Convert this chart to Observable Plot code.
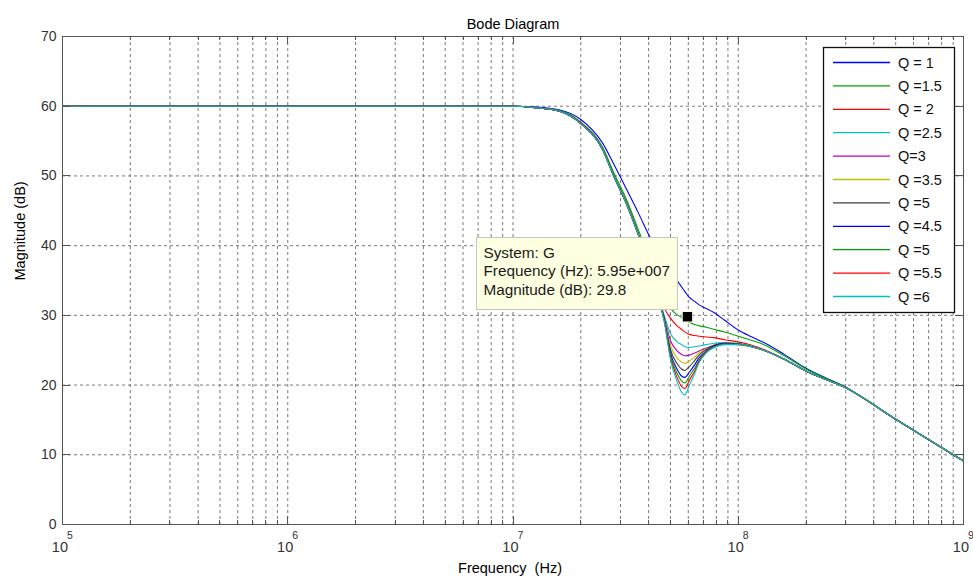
<!DOCTYPE html>
<html><head><meta charset="utf-8">
<script src="https://cdn.jsdelivr.net/npm/d3@7"></script>
<script src="https://cdn.jsdelivr.net/npm/@observablehq/plot@0.6"></script>
<style>
body{margin:0;background:#fff;overflow:hidden;}
svg text{font-family:Arial,"Liberation Sans",sans-serif;}
</style></head><body><div id="chart"></div>
<script>
// ---- data ----
const frequency = [1e5,1e6,1e7,1.25e7,1.6e7,2e7,2.5e7,2.8e7,3.2e7,3.6e7,4e7,4.3e7,4.7e7,5e7,5.35e7,5.6e7,5.8e7,6.05e7,6.4e7,6.7e7,7.2e7,7.8e7,8.7e7,1e8,1.15e8,1.3e8,1.6e8,2e8,3e8,5e8,1e9];

const magQ1   = [60,60,60,59.9,59.5,58.1,54.7,51.7,48.0,44.7,41.6,39.6, 38.0,36.6,35.0,34.1,33.4,32.6,32.0,31.5,31.0,30.4,29.3,27.9,26.9,26.1,24.4,22.4,19.7,15.1,9.1];
const magQ1_5 = [60,60,60,59.8,59.4,57.7,54.1,50.5,46.5,42.3,38.4,35.6, 32.4,31.0,30.1,29.7,29.3,29.0,28.7,28.5,28.3,28.0,27.6,27.0,26.4,25.8,24.2,22.3,19.7,15.1,9.1];
const magQ2   = [60,60,60,59.8,59.3,57.6,53.9,50.1,46.1,41.8,37.6,34.5, 31.0,29.6,28.5,28.0,27.6,27.3,27.1,27.0,26.9,26.8,26.5,26.2,25.7,25.1,23.7,22.0,19.6,15.1,9.1];
const magQ2_5 = [60,60,60,59.8,59.3,57.5,53.8,50.0,45.9,41.6,37.4,34.0, 29.9,27.4,26.2,25.8,25.5,25.4,25.5,25.6,25.8,26.0,26.1,26.0,25.6,25.0,23.7,22.0,19.6,15.1,9.1];
const magQ3   = [60,60,60,59.8,59.3,57.5,53.8,50.0,45.9,41.6,37.3,33.8, 29.7,26.4,24.9,24.4,24.2,24.3,24.6,24.9,25.3,25.7,26.0,25.9,25.5,25.0,23.7,22.0,19.6,15.1,9.1];
const magQ3_5 = [60,60,60,59.8,59.3,57.5,53.8,50.0,45.9,41.6,37.3,33.7, 29.5,25.7,23.9,23.3,23.1,23.4,24.0,24.6,25.2,25.7,26.0,25.9,25.5,25.0,23.7,22.0,19.6,15.1,9.1];
const magQ5a  = [60,60,60,59.8,59.3,57.5,53.8,50.0,45.9,41.6,37.2,33.7, 29.4,25.1,23.1,22.3,22.1,22.6,23.5,24.3,25.1,25.7,26.0,25.9,25.5,25.0,23.7,22.0,19.6,15.1,9.1];
const magQ4_5 = [60,60,60,59.8,59.3,57.5,53.8,50.0,45.9,41.6,37.2,33.6, 29.3,24.6,22.3,21.3,21.1,21.8,22.9,23.9,24.9,25.6,26.0,25.9,25.5,25.0,23.7,22.0,19.6,15.1,9.1];
const magQ5b  = [60,60,60,59.8,59.3,57.5,53.8,50.0,45.9,41.6,37.2,33.6, 29.2,24.3,21.7,20.6,20.3,21.2,22.4,23.6,24.8,25.5,25.9,25.9,25.5,25.0,23.7,22.0,19.6,15.1,9.1];
const magQ5_5 = [60,60,60,59.8,59.3,57.5,53.8,50.0,45.9,41.6,37.2,33.6, 29.1,24.0,21.1,19.8,19.5,20.6,22.0,23.4,24.7,25.4,25.9,25.8,25.5,25.0,23.7,22.0,19.6,15.1,9.1];
const magQ6   = [60,60,60,59.8,59.3,57.5,53.8,50.0,45.9,41.6,37.2,33.6, 29.0,23.7,20.5,19.0,18.6,19.9,21.6,23.2,24.6,25.4,25.8,25.8,25.5,25.0,23.7,22.0,19.6,15.1,9.1];

const seriesLabels = ["Q = 1","Q =1.5","Q = 2","Q =2.5","Q=3","Q =3.5","Q =5","Q =4.5","Q =5","Q =5.5","Q =6"];
const seriesColors = ["#0000ff","#00a000","#ff0000","#00bfbf","#bf00bf","#bfbf00","#404040","#0000ff","#00a000","#ff0000","#00bfbf"];
const seriesMags = [magQ1,magQ1_5,magQ2,magQ2_5,magQ3,magQ3_5,magQ5a,magQ4_5,magQ5b,magQ5_5,magQ6];

const decades = [1e5,1e6,1e7,1e8,1e9];
const decadeBase = ["10","10","10","10","10"];
const decadeExponent = ["5","6","7","8","9"];
const yTicks = [0,10,20,30,40,50,60,70];
const yGrid = [10,20,30,40,50,60];
const xMinor = [2,3,4,5,6,7,8,9].flatMap(k => [1e5,1e6,1e7,1e8].map(d => k*d));

const cursorFreq = [5.95e7];
const cursorMag = [29.8];
const tipLines = ["System: G","Frequency (Hz): 5.95e+007","Magnitude (dB): 29.8"];

const titleText = "Bode Diagram";
const xLabel = "Frequency\u00a0 (Hz)";
const yLabel = "Magnitude (dB)";

(function () {
const font = "Arial, 'Liberation Sans', sans-serif";
const gridStyle = {stroke: "#7a7a7a", strokeDasharray: "3,3", strokeWidth: 1};
const lineMarks = seriesMags.map((mags, i) =>
  Plot.line(frequency.map((f, j) => ({f, m: mags[j]})),
    {x: "f", y: "m", stroke: seriesColors[i], strokeWidth: 1.1, curve: "monotone-x"}));

const plot = Plot.plot({
  width: 973, height: 582,
  marginLeft: 62, marginRight: 10, marginTop: 36, marginBottom: 58,
  style: {fontFamily: font, fontSize: "14px", color: "#222", background: "#fff"},
  x: {type: "log", domain: [1e5, 1e9], axis: null},
  y: {domain: [0, 70], axis: null},
  marks: [
    Plot.ruleX(xMinor.concat([1e6,1e7,1e8]), {x: d => d, ...gridStyle}),
    Plot.ruleY(yGrid, {y: d => d, ...gridStyle}),
    Plot.frame({stroke: "#555"}),
    ...lineMarks,
    Plot.dot(cursorFreq.map((f, i) => ({f, m: cursorMag[i]})),
      {x: "f", y: "m", symbol: "square", r: 5.9, fill: "#000", stroke: "#ffffe1", strokeWidth: 1}),
    Plot.text(yTicks, {y: d => d, text: d => String(d), frameAnchor: "left", textAnchor: "end", dx: -6, fontSize: 14, fill: "#333"}),
    Plot.text([titleText], {text: d => d, frameAnchor: "top", dy: -18, fontSize: 14.5, fill: "#000"}),
    Plot.text([xLabel], {text: d => d, frameAnchor: "bottom", dy: 48, dx: -3, fontSize: 14.5, fill: "#000"}),
    Plot.text([yLabel], {text: d => d, frameAnchor: "left", dx: -42, rotate: -90, fontSize: 14.5, fill: "#000"})
  ]
});

document.getElementById("chart").appendChild(plot);

// ---- overlays positioned with the plot's own scales ----
const sx = plot.scale("x"), sy = plot.scale("y");
const X = d3.scaleLog().domain(sx.domain).range(sx.range);
const Y = d3.scaleLinear().domain(sy.domain).range(sy.range);
const svg = d3.select(plot);
const pLeft = Math.min(...X.range()), pRight = Math.max(...X.range());
const pBottom = Math.max(...Y.range()), pTop = Math.min(...Y.range());

// x tick labels: "10" with a superscript exponent
const xl = svg.append("g").attr("fill", "#333");
decades.forEach((v, i) => {
  const px = X(v);
  xl.append("text").attr("x", px + 6).attr("y", pBottom + 28).attr("text-anchor", "end")
    .attr("font-size", 14.5).attr("fill", "#333").text(decadeBase[i]);
  xl.append("text").attr("x", px + 5).attr("y", pBottom + 14.5).attr("text-anchor", "start")
    .attr("font-size", 10.5).attr("fill", "#333").text(decadeExponent[i]);
});

// inward tick marks
const tg = svg.append("g").attr("stroke", "#555").attr("stroke-width", 1);
xMinor.forEach(v => {
  const px = Math.round(X(v)) + 0.5;
  tg.append("line").attr("x1", px).attr("x2", px).attr("y1", pBottom).attr("y2", pBottom - 4);
  tg.append("line").attr("x1", px).attr("x2", px).attr("y1", pTop).attr("y2", pTop + 4);
});
decades.forEach(v => {
  const px = Math.round(X(v)) + 0.5;
  tg.append("line").attr("x1", px).attr("x2", px).attr("y1", pBottom).attr("y2", pBottom - 8);
  tg.append("line").attr("x1", px).attr("x2", px).attr("y1", pTop).attr("y2", pTop + 8);
});
yTicks.forEach(v => {
  const py = Math.round(Y(v)) + 0.5;
  tg.append("line").attr("x1", pLeft).attr("x2", pLeft + 8).attr("y1", py).attr("y2", py);
  tg.append("line").attr("x1", pRight).attr("x2", pRight - 8).attr("y1", py).attr("y2", py);
});

// legend (top-right inside the axes)
const lgW = 131, lgH = 265, rowH = 23.4;
const lgX = pRight - 9 - lgW, lgY = pTop + 11;
const lg = svg.append("g").attr("text-anchor", "start");
lg.append("rect").attr("x", lgX + 0.5).attr("y", lgY + 0.5).attr("width", lgW).attr("height", lgH)
  .attr("fill", "#fff").attr("stroke", "#111").attr("stroke-width", 1.3);
seriesLabels.forEach((lab, i) => {
  const ry = lgY + 15.5 + i * rowH;
  lg.append("line").attr("x1", lgX + 10).attr("x2", lgX + 67).attr("y1", ry).attr("y2", ry)
    .attr("stroke", seriesColors[i]).attr("stroke-width", 1.3);
  lg.append("text").attr("x", lgX + 75).attr("y", ry + 5).attr("text-anchor", "start")
    .attr("font-size", 14.5).attr("fill", "#111").text(lab);
});

// data-cursor tooltip anchored to the cursor point
const cx = X(cursorFreq[0]), cy = Y(cursorMag[0]);
const tipW = 201, tipH = 72;
const tipX = cx - 9.5 - tipW, tipY = cy - 7 - tipH;
const tip = svg.append("g").attr("text-anchor", "start");
tip.append("rect").attr("x", Math.round(tipX) + 0.5).attr("y", Math.round(tipY) + 0.5).attr("width", tipW).attr("height", tipH)
  .attr("fill", "#ffffe1").attr("stroke", "#c8c8b8").attr("stroke-width", 1);
tipLines.forEach((t, i) => {
  tip.append("text").attr("x", tipX + 7).attr("y", tipY + 20.5 + i * 18.5).attr("text-anchor", "start")
    .attr("font-size", 15.3).attr("fill", "#1a1a1a").text(t);
});
})();
</script></body></html>
